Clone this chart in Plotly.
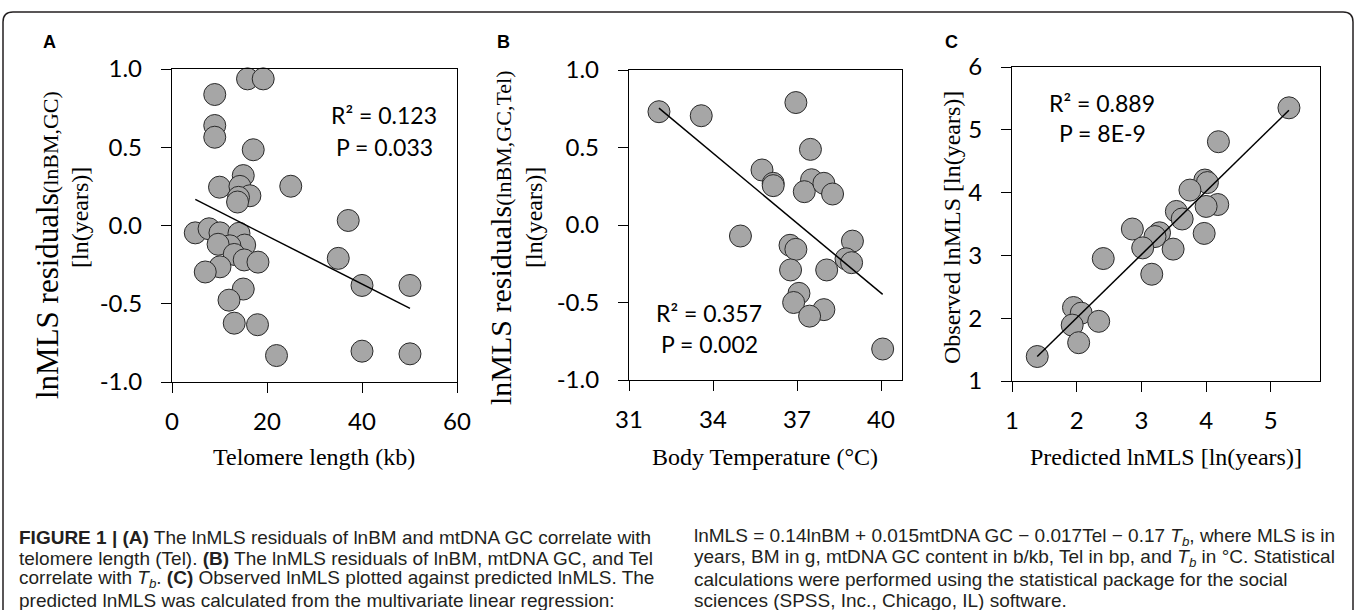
import plotly.graph_objects as go

# ---------------- data ----------------
# Panel A: telomere length (kb) vs lnMLS residuals(lnBM,GC)
tel_kb = [15.9, 19.2, 9.0, 9.0, 9.0, 17.1, 15.0, 10.0, 25.0, 14.3, 16.4, 14.0, 13.8,
          37.1, 35.0, 40.0, 50.1, 4.9, 7.8, 10.1, 14.1, 15.3, 12.2, 9.7, 13.1, 15.2,
          18.1, 10.1, 7.0, 15.0, 12.0, 13.1, 18.0, 22.0, 40.0, 50.1]
resid_A = [0.937, 0.937, 0.837, 0.639, 0.564, 0.484, 0.319, 0.245, 0.251, 0.25, 0.19, 0.18, 0.15,
           0.032, -0.21, -0.383, -0.383, -0.047, -0.021, -0.047, -0.05, -0.125, -0.13, -0.12, -0.185, -0.22,
           -0.234, -0.264, -0.297, -0.406, -0.477, -0.624, -0.634, -0.831, -0.803, -0.82]
trend_A = [-0.0154, 0.242]          # slope, intercept
stats_A = ["R² = 0.123", "P = 0.033"]

# Panel B: body temperature (°C) vs lnMLS residuals(lnBM,GC,Tel)
tb_c = [32.07, 33.58, 36.96, 37.48, 35.75, 36.15, 36.15, 37.52, 37.26, 37.96, 38.27, 34.98,
        36.75, 36.96, 38.98, 38.75, 38.95, 36.77, 38.06, 37.07, 36.88, 37.96, 37.45, 40.06]
resid_B = [0.731, 0.705, 0.79, 0.488, 0.355, 0.269, 0.254, 0.292, 0.215, 0.269, 0.2, -0.071,
           -0.131, -0.157, -0.104, -0.218, -0.243, -0.29, -0.29, -0.441, -0.50, -0.546, -0.588, -0.80]
trend_B = [-0.1504, 5.577]
stats_B = ["R² = 0.357", "P = 0.002"]

# Panel C: predicted vs observed lnMLS
pred_ln = [5.28, 4.19, 3.98, 4.02, 3.75, 4.18, 4.0, 3.54, 3.63, 3.97, 2.86, 3.28, 3.21, 3.02,
           3.49, 3.16, 2.41, 1.95, 2.07, 2.34, 1.93, 2.03, 1.39]
obs_ln = [5.35, 4.81, 4.20, 4.16, 4.04, 3.81, 3.78, 3.70, 3.58, 3.35, 3.42, 3.36, 3.30, 3.12,
          3.10, 2.70, 2.95, 2.17, 2.08, 1.95, 1.89, 1.61, 1.39]
trend_C = [1.008, -0.011]
stats_C = ["R² = 0.889", "P = 8E-9"]

ticks_A_x = [0, 20, 40, 60]
ticks_B_x = [31, 34, 37, 40]
ticks_C_x = [1, 2, 3, 4, 5]
ticks_AB_y = [-1.0, -0.5, 0.0, 0.5, 1.0]
ticktext_AB_y = ["-1.0", "-0.5", "0.0", "0.5", "1.0"]
ticks_C_y = [1, 2, 3, 4, 5, 6]

panel_letters = ["A", "B", "C"]
x_titles = ["Telomere length (kb)", "Body Temperature (°C)", "Predicted lnMLS [ln(years)]"]
caption_left = [
    "<b>FIGURE 1 | (A)</b> The lnMLS residuals of lnBM and mtDNA GC correlate with",
    "telomere length (Tel). <b>(B)</b> The lnMLS residuals of lnBM, mtDNA GC, and Tel",
    "correlate with <i>T<sub>b</sub></i>. <b>(C)</b> Observed lnMLS plotted against predicted lnMLS. The",
    "predicted lnMLS was calculated from the multivariate linear regression:",
]
caption_right = [
    "lnMLS = 0.14lnBM + 0.015mtDNA GC − 0.017Tel − 0.17 <i>T<sub>b</sub></i>, where MLS is in",
    "years, BM in g, mtDNA GC content in b/kb, Tel in bp, and <i>T<sub>b</sub></i> in °C. Statistical",
    "calculations were performed using the statistical package for the social",
    "sciences (SPSS, Inc., Chicago, IL) software.",
]

# ---------------- layout helpers ----------------
W, H = 1355, 610
def px(x):
    return x / W
def py(y):
    return 1 - y / H

SANS = "Lato, Open Sans, sans-serif"
SERIF = "Liberation Serif, Times New Roman, serif"
CAP = "Liberation Sans, Arial, sans-serif"

fig = go.Figure()

marker = dict(size=22, color="#A6A6A6", line=dict(color="#2a2a2a", width=1))

def add_panel(xs, ys, trend, xa, ya):
    fig.add_trace(go.Scatter(x=xs, y=ys, mode="markers", marker=marker,
                             xaxis=xa, yaxis=ya, cliponaxis=False, showlegend=False,
                             hoverinfo="skip"))
    x0, x1 = min(xs), max(xs)
    fig.add_trace(go.Scatter(x=[x0, x1], y=[trend[0] * x0 + trend[1], trend[0] * x1 + trend[1]],
                             mode="lines", line=dict(color="black", width=1.5),
                             xaxis=xa, yaxis=ya, cliponaxis=False, showlegend=False,
                             hoverinfo="skip"))

add_panel(tel_kb, resid_A, trend_A, "x", "y")
add_panel(tb_c, resid_B, trend_B, "x2", "y2")
add_panel(pred_ln, obs_ln, trend_C, "x3", "y3")

axis_common = dict(showline=True, mirror=True, linecolor="black", linewidth=1.3,
                   ticks="outside", ticklen=10, tickwidth=1.3, tickcolor="black",
                   showgrid=False, zeroline=False, fixedrange=True, automargin=False,
                   tickfont=dict(family=SANS, size=24, color="black"))

fig.update_layout(
    template="none",
    width=W, height=H, margin=dict(l=0, r=0, t=0, b=0, pad=0), autosize=False,
    paper_bgcolor="white", plot_bgcolor="white",
    xaxis=dict(domain=[px(172), px(457)], range=[0, 60], tickvals=ticks_A_x, anchor="y",
               ticklabelstandoff=8, **axis_common),
    yaxis=dict(domain=[py(382), py(69)], range=[-1, 1], tickvals=ticks_AB_y,
               ticktext=ticktext_AB_y, anchor="x", ticklabelstandoff=14, **axis_common),
    xaxis2=dict(domain=[px(629), px(902)], range=[31, 40.75], tickvals=ticks_B_x, anchor="y2",
                ticklabelstandoff=8, **axis_common),
    yaxis2=dict(domain=[py(380), py(70)], range=[-1, 1], tickvals=ticks_AB_y,
                ticktext=ticktext_AB_y, anchor="x2", ticklabelstandoff=14, **axis_common),
    xaxis3=dict(domain=[px(1012), px(1320)], range=[1, 5.76], tickvals=ticks_C_x, anchor="y3",
                ticklabelstandoff=8, **axis_common),
    yaxis3=dict(domain=[py(381), py(67)], range=[1, 6], tickvals=ticks_C_y, anchor="x3",
                ticklabelstandoff=14, **axis_common),
)

ann = []
def add_text(text, x, y, size, family, xanchor="center", yanchor="middle", angle=0, color="black"):
    ann.append(dict(text=text, x=px(x), y=py(y), xref="paper", yref="paper", showarrow=False,
                    xanchor=xanchor, yanchor=yanchor, textangle=angle,
                    font=dict(family=family, size=size, color=color)))

# stats annotations
add_text(stats_A[0], 384, 115, 23, SANS)
add_text(stats_A[1], 384, 147, 23, SANS)
add_text(stats_B[0], 709, 313, 23, SANS)
add_text(stats_B[1], 709, 344, 23, SANS)
add_text(stats_C[0], 1102, 103, 23, SANS)
add_text(stats_C[1], 1102, 133, 23, SANS)

# panel letters
for letter, lx in zip(panel_letters, [49, 503, 951]):
    add_text("<b>" + letter + "</b>", lx, 42, 18, CAP)

# x-axis titles
for t, cx in zip(x_titles, [314, 765, 1166]):
    add_text(t, cx, 457, 24, SERIF)

# y-axis titles
add_text('lnMLS residuals<span style="font-size:22px">(lnBM,GC)</span>', 47, 245, 31, SERIF, angle=-90)
add_text("[ln(years)]", 80, 218, 24, SERIF, angle=-90)
add_text('lnMLS residuals<span style="font-size:22px">(lnBM,GC,Tel)</span>', 500, 238, 30, SERIF, angle=-90)
add_text("[ln(years)]", 534, 218, 24, SERIF, angle=-90)
add_text("Observed lnMLS [ln(years)]", 952, 228, 24, SERIF, angle=-90)

# caption
cap_y = [537, 558, 579, 600]
for line, yy in zip(caption_left, cap_y):
    add_text(line, 17, yy, 19, CAP, xanchor="left", color="#231F20")
for line, yy in zip(caption_right, cap_y):
    add_text(line, 692, yy, 19, CAP, xanchor="left", color="#231F20")

fig.update_layout(annotations=ann)

# outer frame with rounded top corners
r = 10
path = (f"M {px(3)},{py(620)} L {px(3)},{py(12 + r)} Q {px(3)},{py(12)} {px(3 + r)},{py(12)} "
        f"L {px(1353 - r)},{py(12)} Q {px(1353)},{py(12)} {px(1353)},{py(12 + r)} L {px(1353)},{py(620)}")
fig.add_shape(type="path", path=path, xref="paper", yref="paper",
              line=dict(color="#231F20", width=1.5))

fig.write_html("out.html", config={"displayModeBar": False},
               post_script="document.body.style.margin='0';document.body.style.overflow='hidden';")
